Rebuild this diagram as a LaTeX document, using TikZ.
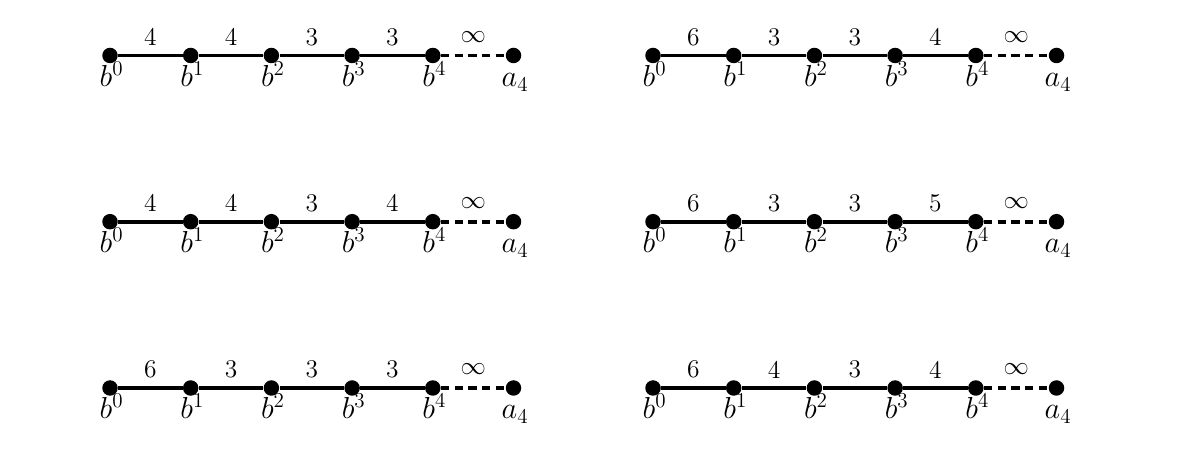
\documentclass[tikz,border=0pt]{standalone}
\begin{document}
\begin{tikzpicture}[x=0.02cm,y=-0.02cm,
  dot/.style={circle,fill=black,inner sep=0pt,minimum size=0.31cm},
  edgeline/.style={line width=2.2pt},
  dashline/.style={line width=2.2pt,dash pattern=on 4.8pt off 3pt},
  weight/.style={midway,yshift=0.37cm,inner sep=0pt,font=\fontsize{14.5}{17}\selectfont},
  vlab/.style={anchor=base,inner sep=0pt,font=\fontsize{17}{20}\selectfont}]
\useasboundingbox (0,0) rectangle (1177,455);
\newcommand\drawchain[7]{%
  \foreach \i in {0,...,5} {\node[dot] (#1-\i) at ({#2+80.7*\i},#3) {};}
  \foreach \i in {0,...,4} {\node[vlab] (#1-l\i) at ({#2+80.7*\i-4},#3+31) {$b\rlap{$^{\i}$}$};}
  \node[vlab] (#1-l5) at ({#2+80.7*5-4},#3+31) {$a\rlap{$_{4}$}$};
  \draw[edgeline] (#1-0) -- node[weight] (#1-w1) {#4} (#1-1);
  \draw[edgeline] (#1-1) -- node[weight] (#1-w2) {#5} (#1-2);
  \draw[edgeline] (#1-2) -- node[weight] (#1-w3) {#6} (#1-3);
  \draw[edgeline] (#1-3) -- node[weight] (#1-w4) {#7} (#1-4);
  \draw[dashline] (#1-4) -- node[weight] (#1-w5) {$\infty$} (#1-5);
}
\drawchain{A}{110}{55.5}{4}{4}{3}{3}
\drawchain{B}{110}{221.7}{4}{4}{3}{4}
\drawchain{C}{110}{388}{6}{3}{3}{3}
\drawchain{D}{653}{55.5}{6}{3}{3}{4}
\drawchain{E}{653}{221.7}{6}{3}{3}{5}
\drawchain{F}{653}{388}{6}{4}{3}{4}
\end{tikzpicture}
\end{document}
